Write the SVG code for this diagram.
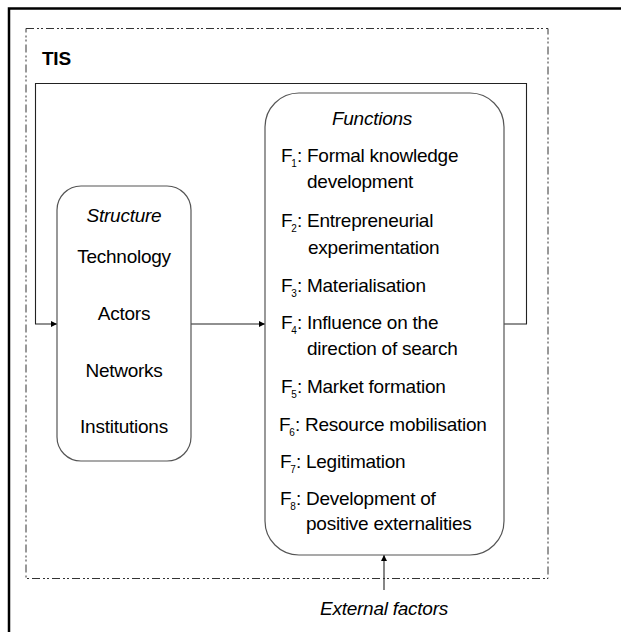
<svg xmlns="http://www.w3.org/2000/svg" width="621" height="632" viewBox="0 0 621 632">
<style>
.t{font-family:"Liberation Sans",Arial,sans-serif;font-size:19px;letter-spacing:-0.25px;fill:#000}
.i{font-style:italic}
.b{font-weight:bold}
.s{font-size:10px;letter-spacing:0}
.box{fill:none;stroke:#555;stroke-width:1.2}
.ln{fill:none;stroke:#222;stroke-width:1.1}
</style>
<defs>
<marker id="ah" viewBox="0 0 10 10" refX="10" refY="5" markerWidth="7" markerHeight="6" markerUnits="userSpaceOnUse" orient="auto">
<path d="M0,0 L10,5 L0,10 Z" fill="#000"/>
</marker>
</defs>
<rect width="621" height="632" fill="#fff"/>
<path d="M9,632 V8.5 H621" fill="none" stroke="#000" stroke-width="2.5"/>
<rect x="26" y="28.5" width="522" height="550" fill="none" stroke="#333" stroke-width="1" stroke-dasharray="8 3 2 2 2 3"/>
<text class="t b" x="42" y="65">TIS</text>
<g id="connectors">
<path class="ln" d="M504,324 H526.5 V83.5 H35.5 V324 H57" marker-end="url(#ah)"/>
<path class="ln" d="M191,324 H265" marker-end="url(#ah)"/>
<path class="ln" d="M384,590 V555" marker-end="url(#ah)"/>
</g>
<g id="structure">
<rect class="box" x="57" y="186" width="134" height="275" rx="24"/>
<text class="t i" text-anchor="middle" x="124" y="222">Structure</text>
<text class="t" text-anchor="middle" x="124" y="263">Technology</text>
<text class="t" text-anchor="middle" x="124" y="320">Actors</text>
<text class="t" text-anchor="middle" x="124" y="377">Networks</text>
<text class="t" text-anchor="middle" x="124" y="433">Institutions</text>
</g>
<g id="functions">
<rect class="box" x="265" y="93" width="239" height="462" rx="34"/>
<text class="t i" text-anchor="middle" x="372" y="125">Functions</text>
<text class="t" x="281" y="162">F<tspan class="s" dx="-1" dy="5">1</tspan><tspan dy="-5">: Formal knowledge</tspan></text>
<text class="t" x="307" y="188">development</text>
<text class="t" x="281" y="227">F<tspan class="s" dx="-1" dy="5">2</tspan><tspan dy="-5">: Entrepreneurial</tspan></text>
<text class="t" x="308" y="254">experimentation</text>
<text class="t" x="281" y="292">F<tspan class="s" dx="-1" dy="5">3</tspan><tspan dy="-5">: Materialisation</tspan></text>
<text class="t" x="281" y="329">F<tspan class="s" dx="-1" dy="5">4</tspan><tspan dy="-5">: Influence on the</tspan></text>
<text class="t" x="307" y="355">direction of search</text>
<text class="t" x="281" y="393">F<tspan class="s" dx="-1" dy="5">5</tspan><tspan dy="-5">: Market formation</tspan></text>
<text class="t" x="279" y="431">F<tspan class="s" dx="-1" dy="5">6</tspan><tspan dy="-5">: Resource mobilisation</tspan></text>
<text class="t" x="280" y="468">F<tspan class="s" dx="-1" dy="5">7</tspan><tspan dy="-5">: Legitimation</tspan></text>
<text class="t" x="280" y="505">F<tspan class="s" dx="-1" dy="5">8</tspan><tspan dy="-5">: Development of</tspan></text>
<text class="t" x="306" y="530">positive externalities</text>
</g>
<g id="external">
<text class="t i" text-anchor="middle" x="384" y="615">External factors</text>
</g>
</svg>
